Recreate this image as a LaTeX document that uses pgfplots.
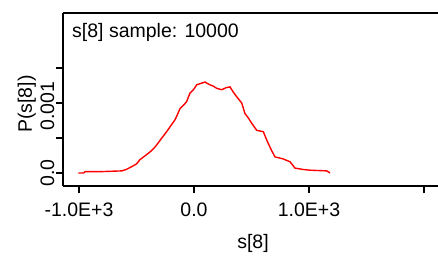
\documentclass[border=0pt]{standalone}
\usepackage{fontspec}
\setmainfont{Liberation Sans}
\usepackage{pgfplots}
\pgfplotsset{compat=1.18}
\newcommand{\fs}{\fontsize{19.5}{21}\selectfont}
\begin{document}
\begin{tikzpicture}
\path[use as bounding box] (0,0) rectangle (438pt,-263pt);
\begin{axis}[
  at={(63pt,-186pt)}, anchor=south west,
  scale only axis, width=380pt, height=173pt,
  xmin=-1139, xmax=2165, ymin=-0.000186, ymax=0.002286,
  axis x line*=bottom, axis y line*=left,
  axis line style={line width=1.3pt, black, -},
  tick style={line width=1.3pt, black},
  major tick length=7pt,
  tick align=outside,
  xtick={-1000,0,1000,2000},
  xticklabels={-1.0E+3,0.0,1.0E+3,{}},
  ytick={0,0.0005,0.001,0.0015},
  yticklabels={},
  scaled ticks=false,
  xticklabel shift=6.5pt,
  ticklabel style={font=\fs},
  label style={font=\fs},
  xlabel={s[8]},
  ylabel={P(s[8])},
  xlabel style={at={(axis description cs:0.5,-0.33)}, anchor=center},
  ylabel style={at={(axis description cs:-0.095,0.474)}, anchor=center, rotate=0},
  clip=false,
]
\draw[line width=1.3pt] (rel axis cs:0,1) -- (rel axis cs:1.02,1);
\node[anchor=base west, font=\fs, inner sep=0pt] at ([xshift=9pt,yshift=-24pt]rel axis cs:0,1) {s[8] sample: 10000};
\node[rotate=90, font=\fs, inner sep=0pt] at ([xshift=-15.5pt]axis cs:-1139,0) {0.0};
\node[rotate=90, font=\fs, inner sep=0pt] at ([xshift=-15.5pt,yshift=-3pt]axis cs:-1139,0.001) {0.001};
\addplot[red, line width=1.4pt] coordinates {
(-1006,0.0) (-960,0.0) (-948,0.00002) (-800,0.00002) (-629,0.00003) (-590,0.00005)
(-542,0.00009) (-500,0.00013) (-470,0.00019) (-430,0.00024) (-383,0.0003)
(-350,0.00035) (-325,0.0004) (-280,0.0005) (-238,0.00059) (-200,0.00068)
(-165,0.00076) (-140,0.00085) (-122,0.00092) (-90,0.00097) (-64,0.00102)
(-45,0.00110) (-35,0.00114) (0,0.0012) (23,0.00126) (60,0.00128) (96,0.0013)
(115,0.00128) (139,0.00126) (170,0.00124) (197,0.00121) (241,0.00119)
(280,0.00122) (313,0.00123) (340,0.00116) (371,0.00109) (415,0.001)
(443,0.00085) (475,0.00078) (502,0.00071) (545,0.00061) (603,0.00059)
(625,0.0005) (646,0.00042) (675,0.00032) (704,0.00023) (777,0.0002)
(835,0.00016) (878,0.00007) (950,0.00005) (1009,0.00004) (1154,0.00003) (1183,0.0)
};
\end{axis}
\end{tikzpicture}
\end{document}
